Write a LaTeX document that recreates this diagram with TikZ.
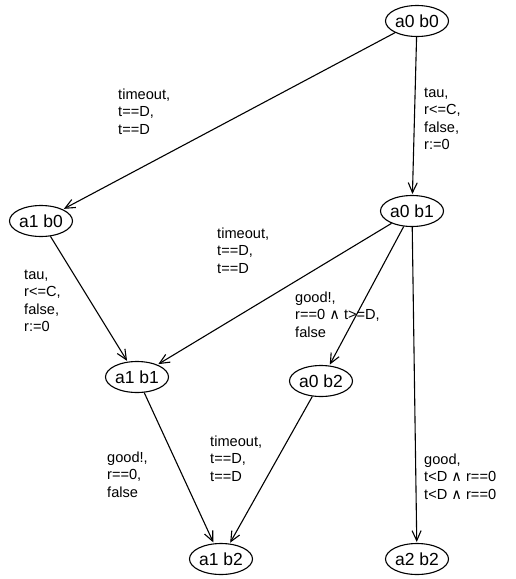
\documentclass[tikz,border=0pt]{standalone}
\usepackage{fontspec}
\setmainfont{Liberation Sans}
\newfontfamily\symfont{DejaVu Sans}
\usepackage{tikz}
\usetikzlibrary{arrows.meta,shapes.geometric}
\newcommand{\conj}{{\symfont ∧}}

\begin{document}
\begin{tikzpicture}[x=1pt, y=-1pt, shorten >=1pt,
    >={Straight Barb[length=10pt,width=9pt]},
    loc/.style={ellipse, draw=black, line width=1.1pt, minimum width=63pt,
      minimum height=31pt, inner sep=0pt, font=\fontsize{17.5}{20}\selectfont},
    lbl/.style={anchor=north west, align=left, inner sep=0pt,
      font=\fontsize{14.6}{17.2}\selectfont}]
   \useasboundingbox (0,0) rectangle (515,579);
   \node[loc] (a0b0) at (417,21) {a0 b0};
   \node[loc] (a1b0) at (41,221) {a1 b0};
   \node[loc] (a0b1) at (412,211) {a0 b1};
   \node[loc] (a1b1) at (137,377) {a1 b1};
   \node[loc] (a0b2) at (321,381) {a0 b2};
   \node[loc] (a1b2) at (221,559) {a1 b2};
   \node[loc] (a2b2) at (417,559) {a2 b2};

   \node[lbl] (l1) at (118,89) {timeout,\\t==D,\\t==D};
   \node[lbl] (l2) at (424,88) {tau,\\r<=C,\\false,\\r:=0};
   \node[lbl] (l3) at (217,228) {timeout,\\t==D,\\t==D};
   \node[lbl] (l4) at (24,270) {tau,\\r<=C,\\false,\\r:=0};
   \node[lbl] (l5) at (295,292) {good!,\\r==0 \conj{} t>=D,\\false};
   \node[lbl] (l6) at (107,452) {good!,\\r==0,\\false};
   \node[lbl] (l7) at (210,436) {timeout,\\t==D,\\t==D};
   \node[lbl] (l8) at (424,454) {good,\\t<D \conj{} r==0\\t<D \conj{} r==0};

  \path[->, line width=1.1pt]
    (a0b0) edge (a1b0)
           edge (a0b1)
    (a0b1) edge (a1b1)
           edge (a0b2)
           edge (a2b2)
    (a1b0) edge (a1b1)
    (a1b1) edge (a1b2)
    (a0b2) edge (a1b2);
\end{tikzpicture}
\end{document}
